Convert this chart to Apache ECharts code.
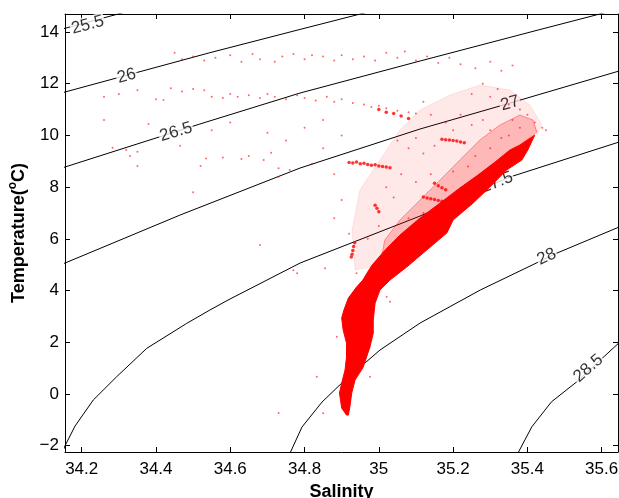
<!DOCTYPE html>
<html>
<head>
<meta charset="utf-8">
<script src="https://cdn.jsdelivr.net/npm/echarts@6/dist/echarts.min.js"></script>
<style>html,body{margin:0;padding:0;background:#fff}#c{width:619px;height:498px}</style>
</head>
<body>
<div id="c"></div>
<script>
// ---- tick labels ----
const salinityTicks = [34.2, 34.4, 34.6, 34.8, 35, 35.2, 35.4, 35.6];
const tempTicks = [-2, 0, 2, 4, 6, 8, 10, 12, 14];

// ---- density (sigma-theta) contours: [salinity, temperature] ----
const contourNames = ['25.5', '26', '26.5', '27', '27.5', '28', '28.5'];
const c255 = [[34.13, 14.05], [34.155, 14.143], [34.298, 14.696], [34.34, 14.86]];
const c26 = [[34.13, 11.58], [34.155, 11.679], [34.545, 13.199], [34.788, 14.10], [35.003, 14.89]];
const c265 = [[34.13, 8.66], [34.155, 8.778], [34.518, 10.441], [34.788, 11.640], [35.111, 12.878], [35.429, 14.077], [35.595, 14.696], [35.703, 15.12]];
const c27 = [[34.13, 4.94], [34.155, 5.064], [34.465, 6.921], [34.788, 8.739], [35.111, 10.248], [35.353, 11.25], [35.647, 12.491], [35.7, 12.71]];
const c275 = [[34.142, -2.48], [34.155, -2.004], [34.182, -1.242], [34.231, -0.236], [34.294, 0.666], [34.375, 1.764], [34.483, 2.733], [34.545, 3.246], [34.594, 3.633], [34.788, 5.064], [35.111, 6.882], [35.353, 8.391], [35.647, 9.745], [35.7, 9.99]];
const c28 = [[34.753, -2.556], [34.761, -2.286], [34.793, -1.280], [34.847, -0.313], [34.903, 0.460], [35.003, 1.698], [35.111, 2.743], [35.273, 4.019], [35.480, 5.451], [35.647, 6.457], [35.7, 6.75]];
const c285 = [[35.369, -2.48], [35.375, -2.275], [35.412, -1.269], [35.465, -0.302], [35.533, 0.472], [35.645, 1.957], [35.663, 2.16]];
const contourLabelPos = [[34.216, 14.27], [34.321, 12.298], [34.454, 10.132], [35.353, 11.242], [35.318, 8.178], [35.452, 5.308], [35.564, 0.990]];

// ---- dense core of the observations (outline of the solid red band) ----
const coreOutline = [
  [34.913, -0.816], [34.900, -0.545], [34.894, 0.035], [34.900, 0.422], [34.909, 0.925], [34.913, 1.428],
  [34.913, 1.969], [34.904, 2.472], [34.900, 2.936], [34.906, 3.246], [34.918, 3.710], [34.940, 4.135],
  [34.957, 4.406], [34.970, 4.716], [34.982, 4.986], [35.017, 5.567], [35.057, 6.147], [35.111, 6.805],
  [35.165, 7.385], [35.218, 7.965], [35.267, 8.468], [35.313, 8.971], [35.353, 9.435], [35.380, 9.629],
  [35.420, 10.015], [35.401, 9.435], [35.385, 9.048], [35.344, 8.661], [35.299, 8.004], [35.254, 7.385],
  [35.200, 6.727], [35.183, 6.224], [35.129, 5.567], [35.075, 4.909], [35.030, 4.406], [35.003, 4.019],
  [34.990, 3.516], [34.985, 2.859], [34.985, 2.356], [34.976, 1.814], [34.967, 1.428], [34.958, 1.041],
  [34.936, 0.538], [34.927, 0.035], [34.922, -0.507], [34.918, -0.816]
];
// medium-density cloud just above the core
const midOutline = [
  [35.003, 4.986], [35.016, 5.954], [35.057, 6.727], [35.111, 7.501], [35.165, 8.275], [35.218, 9.048],
  [35.272, 9.822], [35.326, 10.402], [35.380, 10.789], [35.415, 10.596], [35.426, 10.132],
  [35.380, 9.629], [35.344, 9.319], [35.308, 8.661], [35.272, 8.159], [35.227, 7.617], [35.183, 7.114],
  [35.138, 6.611], [35.084, 5.954], [35.039, 5.439], [35.003, 5.10]
];
// sparse cloud further up
const sparseOutline = [
  [34.936, 4.793], [34.928, 6.340], [34.949, 7.888], [35.003, 9.048], [35.057, 10.209], [35.111, 10.983],
  [35.192, 11.563], [35.272, 11.950], [35.353, 11.756], [35.407, 11.176], [35.439, 10.402], [35.426, 10.015],
  [35.415, 10.596], [35.380, 10.789], [35.326, 10.402], [35.272, 9.822], [35.218, 9.048], [35.165, 8.275],
  [35.111, 7.501], [35.057, 6.727], [35.016, 5.954], [35.003, 4.986]
];

// ---- individual scattered observations ----
const sparsePoints = [
  [34.45,13.2],[34.47,12.95],[34.50,13.05],[34.53,12.9],[34.56,13.0],[34.6,13.1],[34.63,12.85],[34.66,13.15],
  [34.68,12.95],[34.72,12.85],[34.74,13.05],[34.77,13.15],[34.8,12.95],[34.82,13.1],[34.85,13.05],[34.88,12.9],
  [34.9,13.1],[34.93,12.95],[34.96,13.05],[34.99,12.9],[35.02,13.2],[35.05,13.0],[35.07,13.25],[35.1,12.9],
  [35.13,13.05],[35.16,12.8],[35.19,13.0],[35.22,12.75],[35.26,12.6],[35.3,12.85],[35.33,12.5],[35.36,12.7],
  [34.26,11.5],[34.3,11.6],[34.35,11.75],[34.4,11.4],[34.42,11.37],[34.44,11.82],[34.47,11.7],[34.5,11.8],
  [34.53,11.75],[34.55,11.5],[34.58,11.45],[34.6,11.6],[34.62,11.5],[34.65,11.55],[34.68,11.45],[34.7,11.6],
  [34.72,11.5],[34.75,11.4],[34.78,11.55],[34.8,11.45],[34.83,11.35],[34.86,11.5],[34.88,11.3],[34.9,11.4],
  [34.93,11.25],[34.96,11.2],[34.98,11.1],[35.0,11.15],[35.02,11.05],[35.05,10.95],[35.08,10.9],[35.1,10.85],
  [35.12,11.3],[35.14,10.8],
  [34.26,10.6],[34.38,10.44],[34.465,9.6],[34.283,9.52],[34.32,9.44],[34.35,9.37],[34.33,9.2],[34.35,8.82],
  [34.5,7.8],[34.52,8.82],[34.535,9.11],[34.58,9.15],[34.63,9.09],[34.65,9.2],[34.69,9.05],[34.71,9.33],
  [34.73,8.73],[34.73,8.4],[34.76,8.66],[34.68,5.76],[34.77,4.79],[34.78,4.67],[34.55,10.2],[34.6,10.5],
  [34.7,10.1],[34.75,9.8],[34.8,10.3],[34.85,9.5],[34.82,8.9],[34.88,8.5],[34.9,7.5],[34.88,6.8],[34.92,6.2],
  [34.85,10.6],[34.9,10.0],
  [34.73,-0.74],[34.833,0.67],[34.85,-0.75],[34.887,2.21],[34.976,0.67],[35.021,3.76],[35.03,3.57],
  [34.855,4.86],[34.94,4.67],
  [35.3,11.5],[35.35,11.2],[35.4,10.8],[35.38,11.0],[35.32,11.8],[35.28,12.0],[35.25,11.6],[35.42,10.5],
  [35.44,10.3],[35.36,10.6],[35.45,10.2],
  [35.05,9.8],[35.08,9.5],[35.1,9.9],[35.12,9.3],[35.15,9.6],[35.2,10.2],[35.25,10.4],[35.28,10.6],[35.22,10.8],
  [35.3,10.2],[35.35,10.0],[35.18,10.5],[35.06,8.5],[35.1,8.2],[35.02,8.0],[35.04,7.6],[35.0,6.5],[34.97,6.0],
  [35.08,6.8],[35.12,7.0],[35.26,9.2],[35.3,9.5],[35.24,8.8],[35.2,8.6],[35.14,8.5],[35.33,9.9],[35.38,10.3]
];
// short dense streaks of observations
const streakPoints = [
  [34.92,8.95],[34.93,8.93],[34.94,8.97],[34.95,8.9],[34.96,8.92],[34.97,8.88],[34.98,8.85],[34.99,8.87],
  [35.0,8.82],[35.01,8.8],[35.02,8.78],[35.03,8.75],
  [35.12,7.62],[35.13,7.58],[35.14,7.55],[35.15,7.52],[35.16,7.48],[35.17,7.45],[35.18,7.42],
  [35.17,9.85],[35.18,9.83],[35.19,9.82],[35.2,9.8],[35.21,9.78],[35.22,9.75],[35.23,9.72],
  [34.935,5.85],[34.932,5.7],[34.93,5.55],[34.928,5.4],[34.926,5.3],
  [35.15,8.15],[35.16,8.05],[35.17,7.98],[35.18,7.9],
  [34.99,7.3],[34.995,7.18],[35.0,7.05],
  [35.0,11.0],[35.02,10.9],[35.04,10.85],[35.06,10.75],[35.08,10.65]
];

const FONT = 'Liberation Sans, Arial, sans-serif';
const minus = v => String(v).replace('-', '\u2212');

function contourSeries(data) {
  return { type: 'line', data: data, showSymbol: false, clip: true, silent: true,
    lineStyle: { color: '#000', width: 1 }, z: 2, animation: false };
}
function polySeries(points, color, z) {
  return {
    type: 'custom', coordinateSystem: 'cartesian2d', clip: true, silent: true, z: z,
    data: [points[0]],
    renderItem: function (params, api) {
      return { type: 'polygon', shape: { points: points.map(p => api.coord(p)) },
        style: { fill: color, stroke: color, lineWidth: 1 } };
    }
  };
}
const labelRot = [15, 15, 17, 16, 21, 25, 41];

const xRange = { min: 34.155, max: 35.644 };
const yRange = { min: -2.244, max: 14.696 };

const option = {
  animation: false,
  backgroundColor: '#fff',
  grid: { left: 65, top: 14, width: 553, height: 438, containLabel: false, outerBoundsMode: 'none' },
  xAxis: [
    { type: 'value', min: xRange.min, max: xRange.max, position: 'bottom',
      name: 'Salinity', nameLocation: 'middle', nameGap: 29,
      nameTextStyle: { fontFamily: FONT, fontSize: 18, fontWeight: 'bold', color: '#000' },
      axisLine: { show: true, onZero: false, lineStyle: { color: '#000', width: 1 } },
      axisTick: { show: true, inside: true, length: 5, customValues: salinityTicks, lineStyle: { color: '#000' } },
      axisLabel: { show: true, customValues: salinityTicks, fontFamily: FONT, fontSize: 17, color: '#000', margin: 9, formatter: minus },
      splitLine: { show: false } },
    { type: 'value', min: xRange.min, max: xRange.max, position: 'top',
      axisLine: { show: true, onZero: false, lineStyle: { color: '#000', width: 1 } },
      axisTick: { show: true, inside: true, length: 5, customValues: salinityTicks, lineStyle: { color: '#000' } },
      axisLabel: { show: false }, splitLine: { show: false } }
  ],
  yAxis: [
    { type: 'value', min: yRange.min, max: yRange.max, position: 'left',
      name: '{a|Temperature(}{s|o}{a|C)}', nameLocation: 'middle', nameGap: 31, nameRotate: 90,
      nameTextStyle: { rich: {
        a: { fontFamily: FONT, fontSize: 18, fontWeight: 'bold', color: '#000', lineHeight: 24 },
        s: { fontFamily: FONT, fontSize: 12, fontWeight: 'bold', color: '#000', verticalAlign: 'top', lineHeight: 24, padding: [0, 0, 10, 0] } } },
      axisLine: { show: true, onZero: false, lineStyle: { color: '#000', width: 1 } },
      axisTick: { show: true, inside: true, length: 5, customValues: tempTicks, lineStyle: { color: '#000' } },
      axisLabel: { show: true, customValues: tempTicks, fontFamily: FONT, fontSize: 17, color: '#000', margin: 6, formatter: minus },
      splitLine: { show: false } },
    { type: 'value', min: yRange.min, max: yRange.max, position: 'right',
      axisLine: { show: true, onZero: false, lineStyle: { color: '#000', width: 1 } },
      axisTick: { show: true, inside: true, length: 5, customValues: tempTicks, lineStyle: { color: '#000' } },
      axisLabel: { show: false }, splitLine: { show: false } }
  ],
  series: [
    contourSeries(c255), contourSeries(c26), contourSeries(c265), contourSeries(c27),
    contourSeries(c275), contourSeries(c28), contourSeries(c285),
    { type: 'scatter', silent: true, z: 3, symbolSize: 1, itemStyle: { color: 'rgba(0,0,0,0)' },
      data: contourLabelPos.map((p, i) => ({ value: p, name: contourNames[i],
        label: { rotate: labelRot[i] } })),
      label: { show: true, position: 'inside', formatter: p => p.name, fontFamily: FONT, fontSize: 17,
        color: '#000', backgroundColor: '#fff', padding: [0, 1] } },
    polySeries(sparseOutline, 'rgba(255,0,0,0.09)', 4),
    polySeries(midOutline, 'rgba(255,0,0,0.28)', 5),
    polySeries(coreOutline, '#ff0000', 6),
    { type: 'scatter', silent: true, z: 7, symbolSize: 2, data: sparsePoints,
      itemStyle: { color: 'rgba(255,0,0,0.75)' } },
    { type: 'scatter', silent: true, z: 8, symbolSize: 3.5, data: streakPoints,
      itemStyle: { color: '#ff0000' } }
  ]
};
echarts.init(document.getElementById('c'), null, { renderer: 'canvas' }).setOption(option);
</script>
</body>
</html>
